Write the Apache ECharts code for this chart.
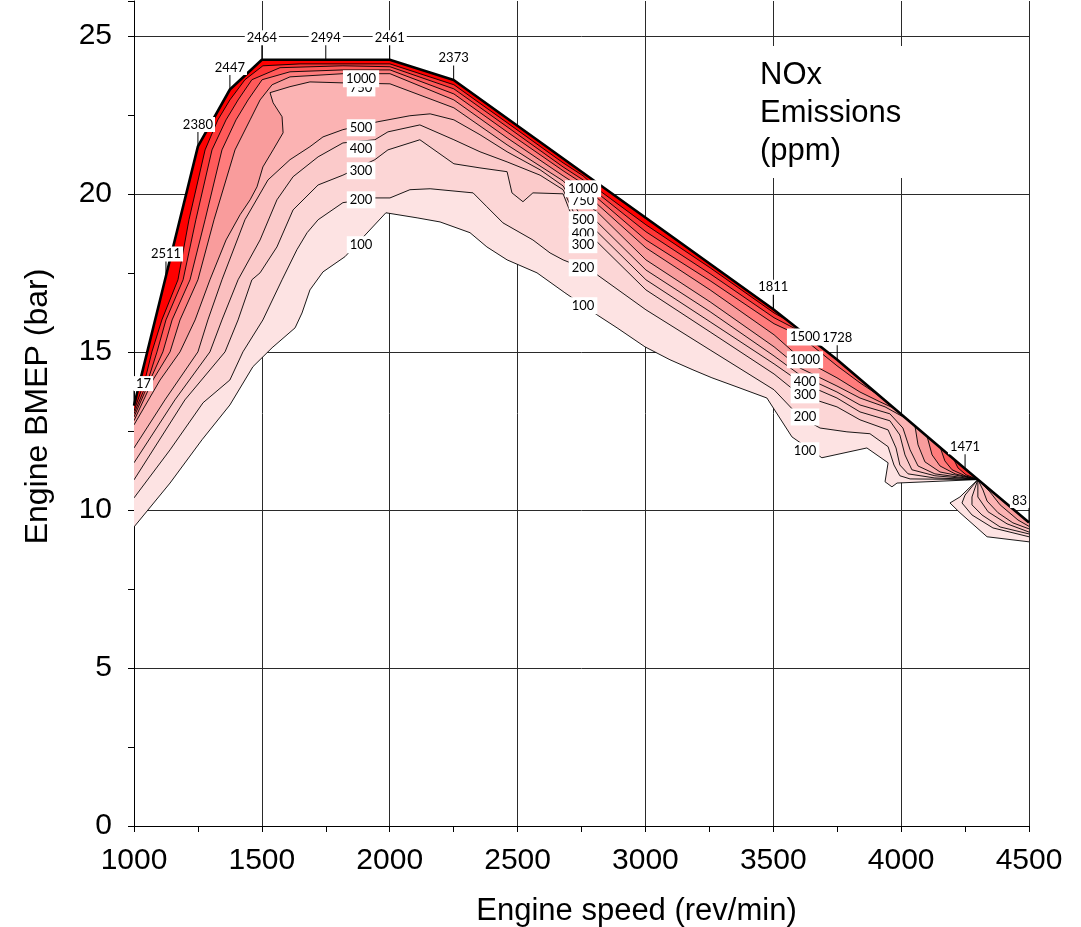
<!DOCTYPE html>
<html>
<head>
<meta charset="utf-8">
<script src="https://cdn.jsdelivr.net/npm/echarts@6/dist/echarts.min.js"></script>
<style>
  html, body { margin: 0; background: #fff; }
  #chart { width: 1081px; height: 927px; }
</style>
</head>
<body>
<div id="chart"></div>
<script>
// full-load (max BMEP) curve, [rpm, bar]
const FULL_LOAD = [[1000,13.3],[1125,17.4],[1250,21.5],[1375,23.3],[1500,24.24],[1750,24.24],[2000,24.24],[2250,23.6],[3500,16.35],[3750,14.75],[4250,11.3],[4300,10.96],[4500,9.6]];
// NOx values written along the full-load curve
const FL_TAG_RPM = [1000, 1125, 1250, 1375, 1500, 1750, 2000, 2250, 3500, 3750, 4250, 4500];
const FL_TAG_TEXT = ['17', '2511', '2380', '2447', '2464', '2494', '2461', '2373', '1811', '1728', '1471', '83'];

// iso-NOx lines (ppm), main region
const C100 = [[1000,9.46],[1141,10.85],[1266,12.22],[1375,13.32],[1465,14.53],[1540,15.13],[1630,15.76],[1657,16.23],[1688,16.96],[1739,17.53],[1825,18.01],[1985,19.4],[2107,19.24],[2197,19.11],[2314,18.77],[2380,18.32],[2459,17.91],[2576,17.5],[2685,16.87],[2811,16.17],[2889,15.76],[2998,15.16],[3096,14.75],[3186,14.43],[3260,14.18],[3358,13.89],[3475,13.54],[3573,12.31],[3690,11.65],[3866,11.96],[3949,11.49],[3937,10.89],[3964,10.73],[3984,10.85],[4300,10.96]];
const C200 = [[1000,10.38],[1141,11.9],[1270,13.39],[1375,14.11],[1426,15.0],[1504,16.01],[1579,17.28],[1637,18.23],[1677,18.77],[1720,19.18],[1817,19.72],[1942,19.87],[2001,19.87],[2079,20.13],[2158,20.16],[2326,20.03],[2380,19.59],[2443,19.08],[2560,18.54],[2627,18.13],[2678,17.91],[2756,17.66],[2811,17.44],[3002,16.33],[3253,15.06],[3503,13.8],[3604,12.94],[3683,12.59],[3788,12.47],[3878,12.41],[3949,12.0],[3972,11.42],[3995,11.08],[4035,10.98],[4300,10.96]];
const C300 = [[1000,10.95],[1199,13.48],[1356,15.0],[1407,16.01],[1461,17.28],[1493,17.5],[1559,18.32],[1622,19.49],[1720,20.28],[1817,20.59],[1942,21.08],[1993,21.39],[2118,21.71],[2251,20.95],[2353,20.82],[2459,20.7],[2478,20.03],[2521,19.75],[2560,20.03],[2678,20.0],[2756,18.39],[2811,18.48],[3002,16.96],[3253,15.63],[3503,14.3],[3604,13.64],[3749,13.26],[3839,12.85],[3949,12.53],[3980,11.96],[3995,11.42],[4027,11.14],[4132,11.01],[4300,10.96]];
const C400 = [[1000,11.49],[1160,13.48],[1297,15.0],[1344,16.01],[1407,17.28],[1493,18.54],[1559,19.81],[1622,20.54],[1720,21.17],[1817,21.61],[1942,21.71],[1993,21.96],[2118,22.18],[2251,21.71],[2353,21.33],[2459,21.01],[2588,20.59],[2678,20.13],[2756,18.77],[2811,18.8],[3002,17.28],[3253,15.95],[3503,14.62],[3604,14.05],[3749,13.54],[3839,13.1],[3956,12.82],[3995,12.37],[4015,11.74],[4042,11.27],[4132,11.08],[4300,10.96]];
const C500 = [[1000,11.96],[1121,13.48],[1250,15.0],[1289,16.01],[1344,17.28],[1434,19.18],[1524,20.44],[1610,21.08],[1688,21.49],[1739,21.8],[1817,22.03],[1954,22.28],[2079,22.47],[2158,22.53],[2251,22.34],[2353,21.87],[2459,21.33],[2588,20.76],[2678,20.25],[2756,19.18],[2811,19.11],[3002,17.59],[3253,16.27],[3503,14.87],[3604,14.27],[3749,13.73],[3839,13.32],[3956,13.04],[4007,12.59],[4035,11.9],[4066,11.39],[4132,11.14],[4300,10.96]];
const C750 = [[1000,12.69],[1102,14.11],[1180,15.0],[1239,16.01],[1297,17.28],[1360,18.54],[1415,19.34],[1454,19.81],[1481,20.22],[1504,20.85],[1544,21.39],[1583,21.93],[1579,22.44],[1544,22.88],[1532,23.2],[1610,23.39],[1688,23.54],[1817,23.51],[2001,23.48],[2251,22.72],[2459,21.55],[2678,20.41],[2756,19.75],[2811,19.43],[3002,17.91],[3253,16.58],[3503,15.16],[3604,14.49],[3749,13.92],[3839,13.54],[3937,13.26],[4015,12.91]];
const C1000 = [[1000,12.82],[1074,14.11],[1141,15.0],[1180,16.01],[1250,17.28],[1313,19.18],[1395,21.39],[1454,22.34],[1493,22.97],[1540,23.45],[1610,23.7],[1817,23.8],[2001,23.8],[2251,22.97],[2459,21.77],[2678,20.57],[2756,20.16],[2811,19.68],[3002,18.29],[3253,16.96],[3503,15.54],[3604,14.81],[3749,14.18],[3839,13.73],[3917,13.42],[3976,13.2]];
const C1500 = [[1000,12.94],[1063,14.11],[1113,15.0],[1149,16.01],[1219,17.28],[1278,19.18],[1344,21.39],[1399,22.34],[1446,22.97],[1501,23.61],[1610,23.86],[1817,23.92],[2001,23.92],[2251,23.16],[2459,21.96],[2678,20.73],[2756,20.32],[2811,19.87],[3002,18.54],[3253,17.25],[3503,15.89],[3604,15.51],[3749,14.56],[3839,14.02],[3909,13.64]];
const C2000 = [[1000,13.04],[1055,14.11],[1090,15.0],[1125,16.01],[1192,17.28],[1242,19.18],[1305,21.39],[1360,22.34],[1407,22.97],[1461,23.61],[1571,23.99],[1817,24.05],[2001,24.02],[2251,23.32],[2459,22.12],[2678,20.85],[2756,20.44],[2811,20.03],[3002,18.8],[3253,17.47],[3503,16.08],[3624,15.57]];
const C2500 = [[1000,13.13],[1043,14.11],[1070,15.0],[1109,16.01],[1172,17.28],[1215,19.18],[1278,21.39],[1328,22.34],[1375,22.97],[1434,23.61],[1504,24.05],[1649,24.11],[2001,24.11],[2251,23.45],[2459,22.25],[2678,20.98],[2756,20.57],[2811,20.16],[3002,19.02],[3253,17.66],[3503,16.23],[3565,15.95]];

// small island of higher NOx just before 4300 rpm
const ISLAND_750 = [[4054,12.66],[4066,12.06],[4093,11.52],[4152,11.2],[4300,10.96]];
const ISLAND_1000 = [[4101,12.34],[4121,11.74],[4152,11.39],[4211,11.14],[4300,10.96]];
const ISLAND_1500 = [[4152,12.0],[4171,11.55],[4199,11.27],[4250,11.08],[4300,10.96]];
const ISLAND_2000 = [[4203,11.65],[4222,11.33],[4254,11.11],[4300,10.96]];

// region past 4300 rpm
const RIGHT_100 = [[4300,10.96],[4230,10.41],[4191,10.22],[4230,9.91],[4336,9.15],[4500,8.99]];
const RIGHT_200 = [[4300,10.96],[4250,10.47],[4238,10.22],[4277,9.84],[4359,9.43],[4500,9.15]];
const RIGHT_300 = [[4300,10.96],[4277,10.41],[4277,10.16],[4316,9.84],[4387,9.46],[4500,9.24]];
const RIGHT_400 = [[4300,10.96],[4300,10.41],[4340,9.94],[4414,9.56],[4500,9.3]];
const RIGHT_500 = [[4300,10.96],[4320,10.63],[4336,10.28],[4379,9.91],[4437,9.59],[4500,9.4]];
const RIGHT_750 = [[4300,10.96],[4347,10.57],[4387,10.16],[4457,9.68],[4500,9.48]];

// in-line contour labels [rpm, bar, text]; hidden ones first
const CONTOUR_TAGS = [
  [1888,23.35,'750'],[1888,23.64,'1000'],[1888,22.09,'500'],[1888,21.42,'400'],[1888,20.73,'300'],[1888,19.81,'200'],[1888,18.39,'100'],
  [2756,19.78,'750'],[2756,18.73,'400'],[2756,20.16,'1000'],[2756,19.18,'500'],[2756,18.39,'300'],[2756,17.66,'200'],[2756,16.46,'100'],
  [3624,14.05,'400'],[3624,15.47,'1500'],[3624,14.75,'1000'],[3624,13.64,'300'],[3624,12.94,'200'],[3624,11.87,'100']
];

const LEVEL_COLOR = {
  100: '#fde3e3', 200: '#fcd6d6', 300: '#fbcaca', 400: '#fbbfbf', 500: '#fbb3b3',
  750: '#f99c9c', 1000: '#ff7c7c', 1500: '#ff5a5a', 2000: '#ff3636', 2500: '#ff0000'
};

const CONTOURS = [
  [100, C100], [200, C200], [300, C300], [400, C400], [500, C500],
  [750, C750], [1000, C1000], [1500, C1500], [2000, C2000], [2500, C2500],
  [750, ISLAND_750], [1000, ISLAND_1000], [1500, ISLAND_1500], [2000, ISLAND_2000],
  [100, RIGHT_100], [200, RIGHT_200], [300, RIGHT_300], [400, RIGHT_400], [500, RIGHT_500], [750, RIGHT_750]
].sort((a, b) => a[0] - b[0]);

// area above a contour line = the line, then back along the full-load curve
function regionAbove(line) {
  const a = line[0][0], b = line[line.length - 1][0];
  const lo = Math.min(a, b) - 0.5, hi = Math.max(a, b) + 0.5;
  const edge = FULL_LOAD.filter(p => p[0] >= lo && p[0] <= hi);
  if (b > a) edge.reverse();
  return line.concat(edge);
}
const REGIONS = CONTOURS.map(c => ({ color: LEVEL_COLOR[c[0]], pts: regionAbove(c[1]), line: c[1] }));

function loadAt(rpm) {
  return FULL_LOAD.find(p => p[0] === rpm)[1];
}

const AXIS_FONT = 'Liberation Sans';
const TAG_FONT = '13px Lato';

const chart = echarts.init(document.getElementById('chart'));

chart.setOption({
  animation: false,
  backgroundColor: '#fff',
  title: {
    text: 'NOx\nEmissions\n(ppm)',
    left: 740,
    top: 46,
    backgroundColor: '#fff',
    padding: [10, 20, 8, 20],
    textStyle: { fontFamily: AXIS_FONT, fontSize: 31, fontWeight: 'normal', lineHeight: 38, color: '#000' }
  },
  grid: { left: 134, right: 52, top: 1, bottom: 101, outerBoundsMode: 'none' },
  xAxis: [
    {
      type: 'value', min: 1000, max: 4500, interval: 500, position: 'bottom',
      name: 'Engine speed (rev/min)', nameLocation: 'middle', nameGap: 70,
      nameTextStyle: { fontFamily: AXIS_FONT, fontSize: 31, color: '#000', padding: [0, 0, 0, 110] },
      axisLine: { show: true, lineStyle: { color: '#000', width: 1 } },
      axisTick: { show: false },
      axisLabel: { fontFamily: AXIS_FONT, fontSize: 30, color: '#000', margin: 20, formatter: v => String(v) },
      splitLine: { show: true, showMinLine: false, lineStyle: { color: '#2a2a2a', width: 1 } }
    },
    {
      type: 'value', min: 1000, max: 4500, interval: 250, position: 'bottom',
      axisLine: { show: false },
      axisTick: { show: true, length: 6, lineStyle: { color: '#000' } },
      axisLabel: { show: false },
      splitLine: { show: false }
    }
  ],
  yAxis: [
    {
      type: 'value', min: 0, max: 26.1, interval: 5, position: 'left',
      name: 'Engine BMEP (bar)', nameLocation: 'middle', nameGap: 80,
      nameTextStyle: { fontFamily: AXIS_FONT, fontSize: 32, color: '#000', padding: [0, 0, 0, 14] },
      axisLine: { show: true, lineStyle: { color: '#000', width: 1 } },
      axisTick: { show: false },
      axisLabel: {
        fontFamily: AXIS_FONT, fontSize: 30, color: '#000', margin: 22,
        formatter: v => (v % 5 === 0 ? String(v) : '')
      },
      splitLine: { show: true, showMinLine: false, showMaxLine: false, lineStyle: { color: '#2a2a2a', width: 1 } }
    },
    {
      type: 'value', min: 0, max: 26.1, interval: 2.5, position: 'left',
      axisLine: { show: false },
      axisTick: { show: true, length: 6, lineStyle: { color: '#000' } },
      axisLabel: { show: false },
      splitLine: { show: false }
    }
  ],
  series: [
    {
      // filled bands
      type: 'custom',
      coordinateSystem: 'cartesian2d',
      silent: true,
      clip: true,
      z: 2,
      data: REGIONS.map(r => r.pts[0]),
      renderItem: (params, api) => {
        const r = REGIONS[params.dataIndex];
        return {
          type: 'polygon',
          shape: { points: r.pts.map(p => api.coord(p)) },
          style: { fill: r.color, stroke: null }
        };
      }
    },
    {
      // iso lines
      type: 'custom',
      coordinateSystem: 'cartesian2d',
      silent: true,
      clip: true,
      z: 3,
      data: REGIONS.map(r => r.line[0]),
      renderItem: (params, api) => {
        const r = REGIONS[params.dataIndex];
        return {
          type: 'polyline',
          shape: { points: r.line.map(p => api.coord(p)) },
          style: { stroke: '#000', lineWidth: 0.9, fill: null }
        };
      }
    },
    {
      type: 'line',
      data: FULL_LOAD,
      symbol: 'none',
      silent: true,
      z: 4,
      lineStyle: { color: '#000', width: 2.6 }
    },
    {
      // values along the full-load curve
      type: 'custom',
      coordinateSystem: 'cartesian2d',
      silent: true,
      clip: false,
      z: 5,
      data: FL_TAG_RPM.map(r => [r, loadAt(r)]),
      renderItem: (params, api) => {
        const i = params.dataIndex;
        const p = api.coord([FL_TAG_RPM[i], loadAt(FL_TAG_RPM[i])]);
        const align = i === 0 ? 'left' : (i === FL_TAG_RPM.length - 1 ? 'right' : 'center');
        return {
          type: 'group',
          children: [
            { type: 'line', shape: { x1: p[0], y1: p[1], x2: p[0], y2: p[1] - 15 }, style: { stroke: '#000', lineWidth: 1 } },
            {
              type: 'text', x: p[0], y: p[1] - 22,
              style: { text: FL_TAG_TEXT[i], font: TAG_FONT, fill: '#000', align: align, verticalAlign: 'middle', backgroundColor: '#fff', padding: [1, 2] }
            }
          ]
        };
      }
    },
    {
      // in-line contour values
      type: 'custom',
      coordinateSystem: 'cartesian2d',
      silent: true,
      clip: false,
      z: 6,
      data: CONTOUR_TAGS.map(t => [t[0], t[1]]),
      renderItem: (params, api) => {
        const t = CONTOUR_TAGS[params.dataIndex];
        const p = api.coord([t[0], t[1]]);
        return {
          type: 'text', x: p[0], y: p[1],
          style: { text: t[2], font: TAG_FONT, fill: '#000', align: 'center', verticalAlign: 'middle', backgroundColor: '#fff', padding: [2, 3] }
        };
      }
    }
  ]
});
</script>
</body>
</html>
